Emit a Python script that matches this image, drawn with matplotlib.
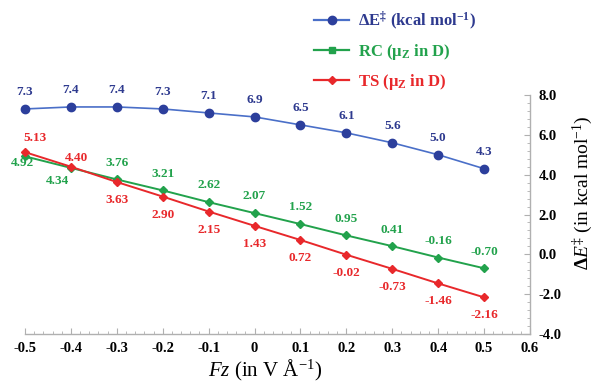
import matplotlib
matplotlib.use("Agg")
import matplotlib.pyplot as plt
from matplotlib.lines import Line2D
from matplotlib.ticker import MultipleLocator, FuncFormatter

plt.rcParams['font.family'] = ['Liberation Serif', 'DejaVu Serif']
plt.rcParams['mathtext.fontset'] = 'custom'
plt.rcParams['mathtext.rm'] = 'Liberation Serif'
plt.rcParams['mathtext.it'] = 'Liberation Serif:italic'
plt.rcParams['mathtext.bf'] = 'Liberation Serif:bold'
plt.rcParams['mathtext.default'] = 'bf'

fz = [-0.5, -0.4, -0.3, -0.2, -0.1, 0.0, 0.1, 0.2, 0.3, 0.4, 0.5]
dE = [7.3, 7.4, 7.4, 7.3, 7.1, 6.9, 6.5, 6.1, 5.6, 5.0, 4.3]
rc = [4.92, 4.34, 3.76, 3.21, 2.62, 2.07, 1.52, 0.95, 0.41, -0.16, -0.70]
ts = [5.13, 4.40, 3.63, 2.90, 2.15, 1.43, 0.72, -0.02, -0.73, -1.46, -2.16]
dE_labels = ['7.3', '7.4', '7.4', '7.3', '7.1', '6.9', '6.5', '6.1', '5.6', '5.0', '4.3']
rc_labels = ['4.92', '4.34', '3.76', '3.21', '2.62', '2.07', '1.52', '0.95', '0.41', '-0.16', '-0.70']
ts_labels = ['5.13', '4.40', '3.63', '2.90', '2.15', '1.43', '0.72', '-0.02', '-0.73', '-1.46', '-2.16']

blue_line = '#4a6fc8'
blue_mk = '#2c3f9c'
blue_txt = '#2e3a8f'
green = '#22a24c'
red = '#e8282b'
grey = '#b0b0b0'

fig = plt.figure(figsize=(5.97, 3.85), dpi=100)
ax = fig.add_axes([25/597, 1-334/385, 505/597, 239/385])

ax.plot(fz, dE, '-o', color=blue_line, mfc=blue_mk, mec=blue_mk, ms=6, lw=1.2, clip_on=False, zorder=3)
ax.plot(fz, rc, '-D', color=green, ms=4, lw=1.4, clip_on=False, zorder=3)
ax.plot(fz, ts, '-D', color=red, ms=4, lw=1.4, clip_on=False, zorder=4)

fs = 9.5
for x, y, t in zip(fz, dE, dE_labels):
    ax.annotate(t, (x, y), xytext=(0, 12), textcoords='offset points', ha='center', va='center',
                fontsize=fs, fontweight='bold', color=blue_txt, annotation_clip=False)
for i, (x, y, t) in enumerate(zip(fz, rc, rc_labels)):
    if i == 0:
        off = (-2, -5)
    elif i == 1:
        off = (-10, -9.5)
    else:
        off = (0, 12)
    ax.annotate(t, (x, y), xytext=off, textcoords='offset points', ha='center', va='center',
                fontsize=fs, fontweight='bold', color=green, annotation_clip=False)
for i, (x, y, t) in enumerate(zip(fz, ts, ts_labels)):
    if i == 0:
        off = (7, 10)
    elif i == 1:
        off = (4, 6.5)
    else:
        off = (0, -13)
    ax.annotate(t, (x, y), xytext=off, textcoords='offset points', ha='center', va='center',
                fontsize=fs, fontweight='bold', color=red, annotation_clip=False)

ax.set_xlim(-0.5, 0.6)
ax.set_ylim(-4.0, 8.0)
for s in ['top', 'left']:
    ax.spines[s].set_visible(False)
for s in ['bottom', 'right']:
    ax.spines[s].set_color(grey)
    ax.spines[s].set_linewidth(1.0)

ax.xaxis.set_major_locator(MultipleLocator(0.1))
ax.xaxis.set_minor_locator(MultipleLocator(0.02))
ax.yaxis.set_major_locator(MultipleLocator(2.0))
ax.yaxis.set_minor_locator(MultipleLocator(0.4))
ax.yaxis.tick_right()
ax.yaxis.set_label_position('right')

def xfmt(v, p):
    if abs(v) < 1e-9:
        return '0'
    return f'{v:.1f}'
ax.xaxis.set_major_formatter(FuncFormatter(xfmt))
ax.yaxis.set_major_formatter(FuncFormatter(lambda v, p: f'{v:.1f}'))

ax.tick_params(axis='both', which='both', direction='in', color=grey)
ax.tick_params(axis='both', which='major', length=4, labelsize=10.5)
ax.tick_params(axis='x', which='major', pad=6)
ax.tick_params(axis='y', which='major', pad=6)
ax.tick_params(axis='both', which='minor', length=2.5)
for lab in ax.get_xticklabels() + ax.get_yticklabels():
    lab.set_fontweight('bold')

ax.set_xlabel(r'$\mathit{Fz}$ (in V Å$^{\mathrm{-1}}$)', fontsize=15, fontweight='normal')
ax.xaxis.set_label_coords(0.475, -0.10)
ax.set_ylabel(r'$\Delta\mathit{E}^{\mathrm{‡}}$ (in kcal mol$^{\mathrm{-1}}$)', fontsize=14,
              fontweight='normal', rotation=90)
ax.yaxis.set_label_coords(1.08, 0.59)

handles = [
    Line2D([], [], color=blue_line, marker='o', mfc=blue_mk, mec=blue_mk, ms=6, lw=1.6),
    Line2D([], [], color=green, marker='s', ms=5, lw=1.6),
    Line2D([], [], color=red, marker='D', ms=4, lw=1.6),
]
labels = ['ΔE$^{‡}$ (kcal mol$^{-1}$)', 'RC (μ$_{Z}$ in D)', 'TS (μ$_{Z}$ in D)']
leg = fig.legend(handles, labels, loc='upper left', bbox_to_anchor=(306/597, 1-1/385),
                 frameon=False, prop={'size': 12, 'weight': 'bold'}, handlelength=2.1,
                 labelspacing=0.6, handletextpad=0.5, borderaxespad=0.1)
for txt, c in zip(leg.get_texts(), [blue_txt, green, red]):
    txt.set_color(c)

fig.savefig('out.png', dpi=100)
